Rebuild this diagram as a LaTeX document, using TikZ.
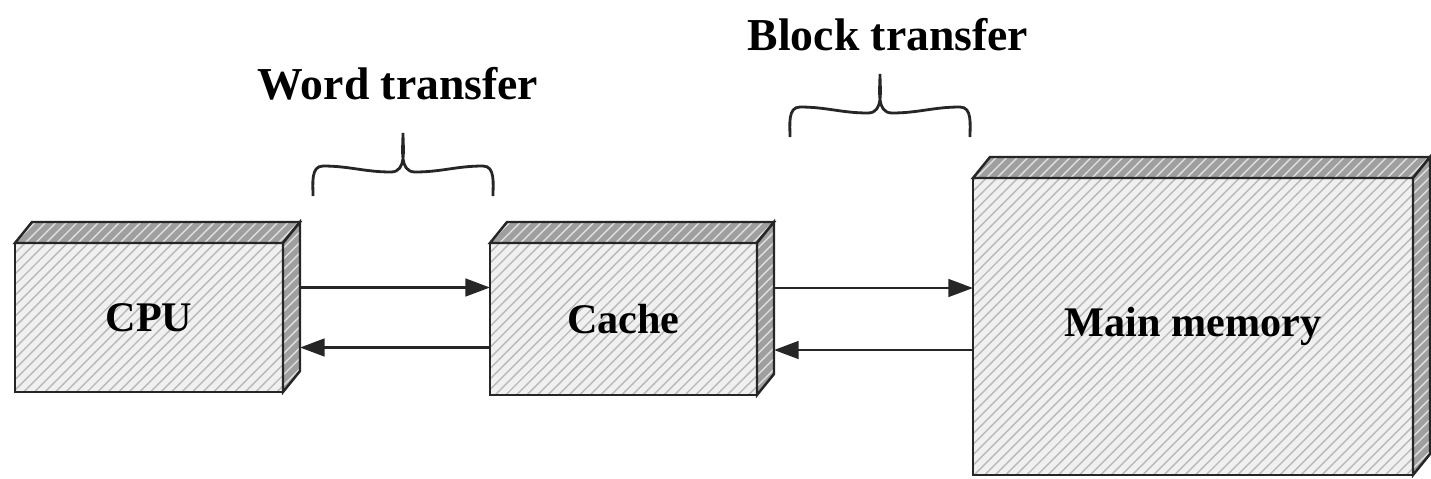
\documentclass[tikz,border=0pt]{standalone}
\usepackage{fontspec}
\setmainfont{Liberation Serif}
\usetikzlibrary{calc,patterns,arrows.meta}
% sisi atas dan sisi kanan sebuah balok
\newcommand{\balok}[1]{%
  \draw[sisi] (#1.north west) -- ++(0.17,0.21) -- ($(#1.north east)+(0.17,0.21)$) -- (#1.north east) -- cycle;
  \draw[sisi] (#1.north east) -- ++(0.17,0.21) -- ($(#1.south east)+(0.17,0.21)$) -- (#1.south east) -- cycle;}
% kurung kurawal, #1 = ujung kiri
\newcommand{\kurung}[1]{%
  \draw[kurawal] (#1) to[out=90,in=180] ++(0.1,0.3) to[out=0,in=180] ++(0.68,-0.06)
    to[out=0,in=-90] ++(0.12,0.39) to[out=-90,in=180] ++(0.12,-0.39)
    to[out=0,in=180] ++(0.68,0.06) to[out=0,in=90] ++(0.1,-0.3);}

\begin{document}
\begin{tikzpicture}[
  kotak/.style={draw=black!85, line width=0.7pt, inner sep=0pt, outer sep=0pt,
    preaction={fill=gray!12}, pattern=north east lines, pattern color=gray!55,
    font=\bfseries\fontsize{12}{14}\selectfont},
  sisi/.style={draw=black!85, line width=0.7pt, preaction={fill=gray!75},
    pattern=north east lines, pattern color=gray!25},
  panah/.style={line width=0.8pt, draw=black!85, -{Triangle[length=7pt,width=5pt]}},
  kurawal/.style={line width=0.8pt, draw=black!85},
  judul/.style={font=\bfseries\fontsize{13}{15}\selectfont}]
  \useasboundingbox (0,0) rectangle (14.31,-4.79);

  \node[kotak, minimum width=2.68cm, minimum height=1.49cm] (cpu)   at (1.49,-3.175) {CPU};
  \node[kotak, minimum width=2.67cm, minimum height=1.52cm] (cache) at (6.235,-3.19) {Cache};
  \node[kotak, minimum width=4.40cm, minimum height=2.97cm] (mem)   at (11.93,-3.265) {Main memory};
  \balok{cpu}
  \balok{cache}
  \balok{mem}

  \coordinate (w1) at ($(cpu.east)+(0.17,0.3)$);
  \coordinate (w2) at ($(cpu.east)+(0.17,-0.3)$);
  \coordinate (b1) at ($(cache.east)+(0.17,0.31)$);
  \coordinate (b2) at ($(cache.east)+(0.17,-0.31)$);
  \draw[panah] (w1) -- (w1 -| cache.west);
  \draw[panah] (w2 -| cache.west) -- (w2);
  \draw[panah] (b1) -- (b1 -| mem.west);
  \draw[panah] (b2 -| mem.west) -- (b2);

  \kurung{3.13,-1.96}
  \kurung{7.9,-1.37}
  \node[judul] (word)  at (3.98,-0.84) {Word transfer};
  \node[judul] (block) at (8.88,-0.35) {Block transfer};
\end{tikzpicture}
\end{document}
